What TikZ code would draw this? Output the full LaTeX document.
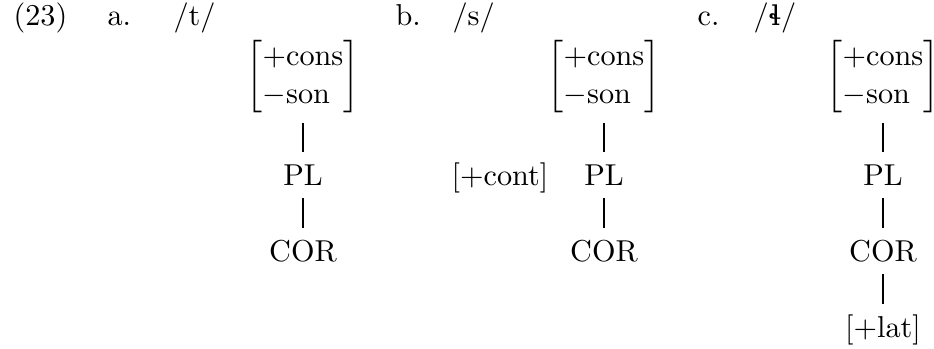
\documentclass[tikz,border=0pt]{standalone}
\usepackage{amsmath}
\usepackage{fontspec}
\newfontfamily\ipafont[Scale=0.9]{DejaVu Serif}
\usepackage{tikz}
\usetikzlibrary{positioning, calc}

% matrice di tratti
\newcommand{\consson}{\def\arraystretch{1.06}%
  $\left[\begin{array}{@{}l@{}}+\mathrm{cons}\\-\mathrm{son}\end{array}\right]$}

\begin{document}
\begin{tikzpicture}[x=1.1628cm,y=1.1628cm,font=\fontsize{10}{12}\selectfont,
  lab/.style={anchor=base west, inner sep=0pt},
  feat/.style={anchor=base, inner sep=3.9pt, text height=7.2pt, text depth=0pt},
  mat/.style={anchor=south, inner sep=2.3pt},
  asso/.style={line width=0.4pt}]

\useasboundingbox (0,0) rectangle (9.34,-3.49);

% Colonne
\def\colA{3.03}
\def\colB{6.04}
\def\colC{8.83}
\def\rtop{-0.26}

% --- Riga in alto
\node[lab] (num) at (0.13,\rtop) {(23)};
\node[lab] (ia)  at (1.07,\rtop) {a.};
\node[lab] (pa)  at (1.73,\rtop) {/t/};
\node[lab] (ib)  at (3.95,\rtop) {b.};
\node[lab] (pb)  at (4.52,\rtop) {/s/};
\node[lab] (ic)  at (6.97,\rtop) {c.};
\node[lab] (pc)  at (7.53,\rtop) {/{\ipafont ɬ}/};

% --- a. /t/
\node[mat]  (rootA) at (\colA,-1.23) {\consson};
\node[feat] (plA)  at (\colA,-1.86) {PL};
\node[feat] (corA) at (\colA,-2.62) {COR};
\draw[asso] (rootA.south) -- (plA.north);
\draw[asso] (plA.south) -- (corA.north);

% --- b. /s/
\node[mat]  (rootB) at (\colB,-1.23) {\consson};
\node[feat] (plB)   at (\colB,-1.86) {PL};
\node[feat] (corB)  at (\colB,-2.62) {COR};
\node[feat] (contB) at (5.00,-1.86) {[+cont]};
\draw[asso] (rootB.south) -- (plB.north);
\draw[asso] (plB.south) -- (corB.north);

% --- c. laterale
\node[mat]  (rootC) at (\colC,-1.23) {\consson};
\node[feat] (plC)  at (\colC,-1.86) {PL};
\node[feat] (corC) at (\colC,-2.62) {COR};
\node[feat] (latC) at (\colC,-3.38) {[+lat]};
\draw[asso] (rootC.south) -- (plC.north);
\draw[asso] (plC.south) -- (corC.north);
\draw[asso] (corC.south) -- (latC.north);

\end{tikzpicture}
\end{document}
